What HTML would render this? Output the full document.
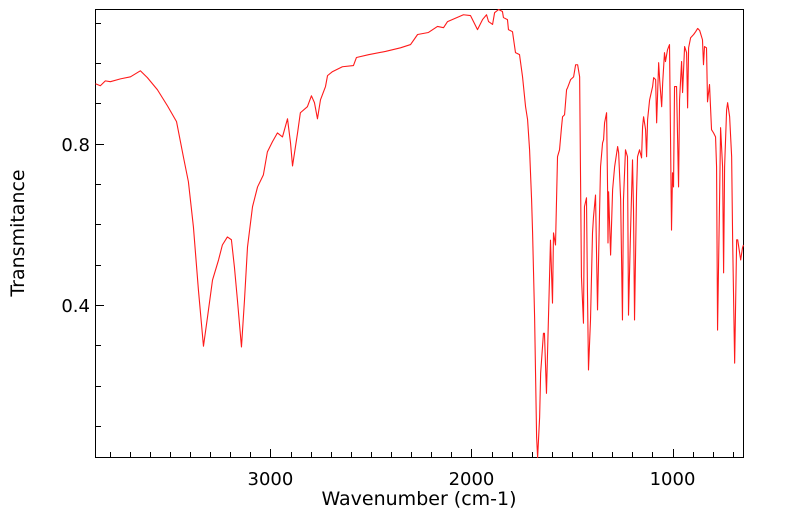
<!DOCTYPE html>
<html><head><meta charset="utf-8"><style>
html,body{margin:0;padding:0;background:#fff;}
svg{display:block;font-family:"DejaVu Sans","Liberation Sans",sans-serif;}
</style></head><body>
<svg id="chart" width="799" height="516" viewBox="0 0 799 516">
<rect x="95.5" y="9.5" width="648" height="448" fill="#fff" stroke="#000" stroke-width="1"/>
<g id="ticks"></g>
<g id="labels"></g>
<path id="spectrum" fill="none" stroke="#ff1a1a" stroke-width="1.1" stroke-linejoin="round"/>
<text x="419" y="505" text-anchor="middle" font-size="19">Wavenumber (cm-1)</text>
<text transform="translate(24,233) rotate(-90)" text-anchor="middle" font-size="19">Transmitance</text>
</svg>
<script>
const wavenumbers = [3870,3846,3821,3796,3746,3696,3647,3612,3562,3512,3467,3433,3408,3383,3358,3333,3313,3288,3258,3239,3214,3194,3179,3164,3144,3129,3114,3089,3064,3035,3015,2990,2965,2940,2915,2900,2890,2865,2851,2816,2796,2781,2766,2751,2726,2716,2691,2642,2587,2572,2512,2428,2353,2303,2268,2214,2169,2139,2119,2040,2005,1970,1945,1925,1915,1895,1885,1865,1846,1841,1821,1816,1796,1781,1761,1746,1731,1721,1711,1701,1696,1686,1676,1671,1661,1656,1642,1637,1627,1617,1607,1597,1592,1582,1572,1562,1552,1547,1537,1527,1522,1507,1492,1482,1472,1462,1458,1453,1443,1438,1428,1423,1418,1408,1398,1393,1383,1373,1363,1358,1348,1343,1338,1328,1323,1321,1318,1308,1298,1288,1273,1268,1258,1249,1244,1234,1224,1219,1209,1199,1194,1189,1179,1174,1164,1154,1149,1144,1134,1129,1124,1114,1099,1094,1084,1079,1069,1064,1054,1049,1040,1035,1025,1015,1005,1000,995,990,980,970,965,955,950,940,930,925,920,910,895,885,875,865,851,846,841,831,826,816,806,796,786,781,776,766,761,751,746,741,731,726,716,706,701,691,681,676,661,652,647];
const transmittance = [0.949,0.944,0.956,0.954,0.961,0.966,0.981,0.964,0.934,0.894,0.855,0.768,0.706,0.594,0.437,0.298,0.370,0.462,0.512,0.549,0.569,0.562,0.494,0.412,0.296,0.412,0.544,0.644,0.693,0.723,0.780,0.805,0.827,0.817,0.862,0.802,0.745,0.827,0.877,0.892,0.919,0.902,0.862,0.909,0.942,0.969,0.979,0.991,0.994,1.014,1.021,1.029,1.038,1.046,1.071,1.076,1.091,1.088,1.103,1.120,1.118,1.083,1.108,1.120,1.103,1.096,1.125,1.133,1.128,1.113,1.108,1.083,1.078,1.026,1.021,0.966,0.892,0.860,0.785,0.661,0.579,0.370,0.072,0.022,0.122,0.231,0.330,0.330,0.181,0.370,0.561,0.405,0.579,0.549,0.768,0.785,0.842,0.867,0.872,0.934,0.939,0.959,0.966,0.996,0.996,0.966,0.743,0.470,0.355,0.644,0.666,0.430,0.239,0.363,0.579,0.619,0.673,0.388,0.629,0.743,0.802,0.810,0.852,0.877,0.686,0.554,0.681,0.524,0.686,0.743,0.793,0.778,0.661,0.363,0.661,0.785,0.768,0.375,0.579,0.760,0.636,0.363,0.678,0.768,0.785,0.765,0.842,0.867,0.835,0.768,0.860,0.909,0.942,0.964,0.959,0.852,1.001,0.959,0.892,0.951,1.026,1.004,1.033,1.046,0.586,0.728,0.693,0.942,0.942,0.693,0.909,1.004,0.927,1.041,1.026,0.889,1.038,1.063,1.071,1.078,1.086,1.081,1.058,0.996,1.041,1.038,0.904,0.947,0.835,0.827,0.817,0.743,0.338,0.661,0.840,0.743,0.480,0.743,0.884,0.902,0.867,0.768,0.562,0.256,0.562,0.562,0.512,0.542,0.549];
const xTickLabels = [3000,2000,1000];
const yTickLabels = [0.4,0.8];

const X0=95.5,X1=743.5,WMAX=3870,WMIN=647;
const Y0=457.5,Y1=9.5,TMIN=0.022,TMAX=1.133;
function xs(w){return X0+(WMAX-w)/(WMAX-WMIN)*(X1-X0);}
function ys(t){return Y0-(t-TMIN)/(TMAX-TMIN)*(Y0-Y1);}
const NS="http://www.w3.org/2000/svg";
let d="";
for(let i=0;i<wavenumbers.length;i++){d+=(i?"L":"M")+xs(wavenumbers[i]).toFixed(2)+","+ys(transmittance[i]).toFixed(2);}
document.getElementById("spectrum").setAttribute("d",d);
const tg=document.getElementById("ticks"),lg=document.getElementById("labels");
function line(x1,y1,x2,y2){const l=document.createElementNS(NS,"line");l.setAttribute("x1",x1);l.setAttribute("y1",y1);l.setAttribute("x2",x2);l.setAttribute("y2",y2);l.setAttribute("stroke","#000");l.setAttribute("stroke-width","1");


tg.appendChild(l);}
for(let w=3800;w>=700;w-=100){const x=Math.round(xs(w))+0.5;const major=xTickLabels.includes(w);line(x,457,x,major?449:452);}
for(let k=1;k<=11;k++){const t=k/10;const y=Math.round(ys(t))+0.5;const major=yTickLabels.some(v=>Math.abs(v-t)<1e-6);line(96,y,major?104:101,y);}
xTickLabels.forEach(w=>{const t=document.createElementNS(NS,"text");t.setAttribute("x",xs(w));t.setAttribute("y",485);t.setAttribute("text-anchor","middle");t.setAttribute("font-size","18");t.textContent=w;


lg.appendChild(t);});
yTickLabels.forEach(v=>{const t=document.createElementNS(NS,"text");t.setAttribute("x",90);t.setAttribute("y",ys(v)+7);t.setAttribute("text-anchor","end");t.setAttribute("font-size","18");t.textContent=v.toFixed(1);


lg.appendChild(t);});
</script>
</body></html>
